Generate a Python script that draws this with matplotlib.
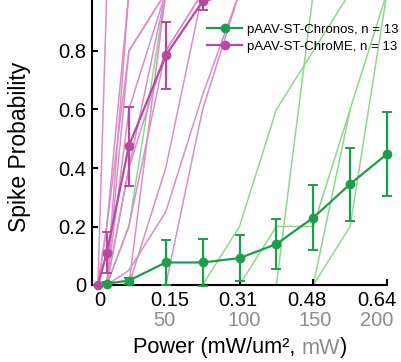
import numpy as np
import matplotlib.pyplot as plt

plt.rcParams['font.family'] = ['Liberation Sans', 'DejaVu Sans']

# x positions in mW (laser power)
power_green = [10, 25, 50, 75, 100, 125, 150, 175, 200]
power_mag = [4, 10, 25, 50, 75, 100, 125, 150, 175, 200]

# mean +/- sem
chronos_mean = [0.005, 0.015, 0.077, 0.077, 0.092, 0.14, 0.23, 0.345, 0.448]
chronos_err = [0.005, 0.01, 0.078, 0.08, 0.078, 0.085, 0.112, 0.125, 0.145]
chrome_mean = [0.0, 0.11, 0.475, 0.785, 0.97, 1.0, 1.0, 1.0, 1.0, 1.0]
chrome_err = [0.0, 0.07, 0.135, 0.115, 0.03, 0, 0, 0, 0, 0]

nan = np.nan
# single cells, Chronos
chronos_cells = [
    [0, 0.2, 1.0, 1, 1, 1, 1, 1, 1],
    [0, 0, 0, 0, 0.2, 0.6, 0.8, 1, 1],
    [0, 0, 0, 0, 0, 0, 1.0, 1, 1],
    [0, 0, 0, 0, 0, 0, 0, 0.6, nan],
    [0, 0, 0, 0, 0, 0, 0, 0.2, 1.0],
    [0, 0, 0, 0, 0, 0.2, 0.2, 0.6, 1.0],
    [0, 0, 0, 0, 0, 0, 0, 0, 0],
    [0, 0, 0, 0, 0, 0, 0, 0, 0],
    [0, 0, 0, 0, 0, 0, 0, 0, 0],
    [0, 0, 0, 0, 0, 0, 0, 0, 0],
    [0, 0, 0, 0, 0, 0, 0, 0, 0],
    [0, 0, 0, 0, 0, 0, 0, 0, 0],
    [0, 0, 0, 0, 0, 0, 0, 0, 0],
]
# single cells, ChroME
chrome_cells = [
    [0, 1, 1, 1, 1, 1, 1, 1, 1, 1],
    [0, 0.2, 1, 1, 1, 1, 1, 1, 1, 1],
    [0, 0, 1, 1, 1, 1, 1, 1, 1, 1],
    [0, 0.2, 0.8, 1, 1, 1, 1, 1, 1, 1],
    [0, 0, 0.8, 1, 1, 1, 1, 1, 1, 1],
    [0, 0, 0.6, 1, 1, 1, 1, 1, 1, 1],
    [0, 0, 0.4, 1, 1, 1, 1, 1, 1, 1],
    [0, 0, 0.4, 0.8, 1, 1, 1, 1, 1, 1],
    [0, 0, 0.2, 0.8, 1, 1, 1, 1, 1, 1],
    [0, 0, 0, 1, 1, 1, 1, 1, 1, 1],
    [0, 0, 0.05, 0.25, 0.65, 1, 1, 1, 1, 1],
    [0, 0, 0, 0.4, 1, 1, 1, 1, 1, 1],
    [0, 0, 0, 0, 0.6, 1, 1, 1, 1, 1],
]

xticks = [50, 100, 150, 200]
xlab_top = ['0', '0.15', '0.31', '0.48', '0.64']
xlab_top_pos = [5, 53, 99, 146, 193]
xlab_bottom = ['50', '100', '150', '200']
xlab_bottom_pos = [49, 103, 151, 193]

green = '#1c9e4c'
green_light = '#8fd88a'
mag = '#b54aa0'
mag_light = '#d98ec8'
grey = '#8c8c8c'

fig = plt.figure(figsize=(4.01, 3.62), dpi=100)
W, H = 401, 362
ax = fig.add_axes([92 / W, 1 - 285 / H, 295 / W, 292.5 / H])

for c in chronos_cells:
    ax.plot(power_green, c, color=green_light, lw=1.1, zorder=1)
for c in chrome_cells:
    ax.plot(power_mag, c, color=mag_light, lw=1.1, zorder=1)

kw = dict(lw=1.6, marker='o', ms=6, capsize=3.5, capthick=1.4,
          elinewidth=1.6, clip_on=False)
h1 = ax.errorbar(power_green, chronos_mean, yerr=chronos_err, color=green,
                 zorder=4, **kw)
h2 = ax.errorbar(power_mag, chrome_mean, yerr=chrome_err, color=mag,
                 zorder=3, **kw)

ax.set_xlim(0, 200)
ax.set_ylim(0, 1.0)
for s in ['top', 'right']:
    ax.spines[s].set_visible(False)
for s in ['left', 'bottom']:
    ax.spines[s].set_linewidth(1.5)
ax.tick_params(direction='in', length=4, width=1.5, labelsize=14.5)
ax.tick_params(axis='y', pad=4)
ax.set_yticks([0, 0.2, 0.4, 0.6, 0.8, 1.0])
ax.set_yticklabels(['0', '0.2', '0.4', '0.6', '0.8', '1'])
ax.set_xticks(xticks)
ax.set_xticklabels([])
tr = ax.get_xaxis_transform()
for xp, lab in zip(xlab_top_pos, xlab_top):
    ax.text(xp, -15.5 / 292.5, lab, transform=tr, ha='center', va='center',
            fontsize=14.5)
for xp, lab in zip(xlab_bottom_pos, xlab_bottom):
    ax.text(xp, -35.5 / 292.5, lab, transform=tr, ha='center', va='center',
            fontsize=14.5, color=grey)

leg = ax.legend([h1[0], h2[0]],
                ['pAAV-ST-Chronos, n = 13', 'pAAV-ST-ChroME, n = 13'],
                loc='upper left', bbox_to_anchor=(0.39, 0.893), frameon=False,
                fontsize=9.5, handlelength=2.65, handletextpad=0.38,
                borderaxespad=0, borderpad=0, labelspacing=0.36)

fig.text(20 / W, 1 - 147 / H, 'Spike Probability', rotation=90,
         ha='center', va='center', fontsize=16.5)

# x label with two colours
parts = [('Power (mW/um\u00b2, ', 'black'), ('mW', grey), (')', 'black')]
fig.canvas.draw()
r = fig.canvas.get_renderer()
texts = []
for s, col in parts:
    texts.append(fig.text(0, 1 - 348 / H, s, color=col, fontsize=15.7,
                          ha='left', va='center'))
widths = [t.get_window_extent(r).width for t in texts]
x0 = 240 - sum(widths) / 2
for t, w in zip(texts, widths):
    t.set_x(x0 / W)
    x0 += w

fig.savefig('out.png', dpi=100)
